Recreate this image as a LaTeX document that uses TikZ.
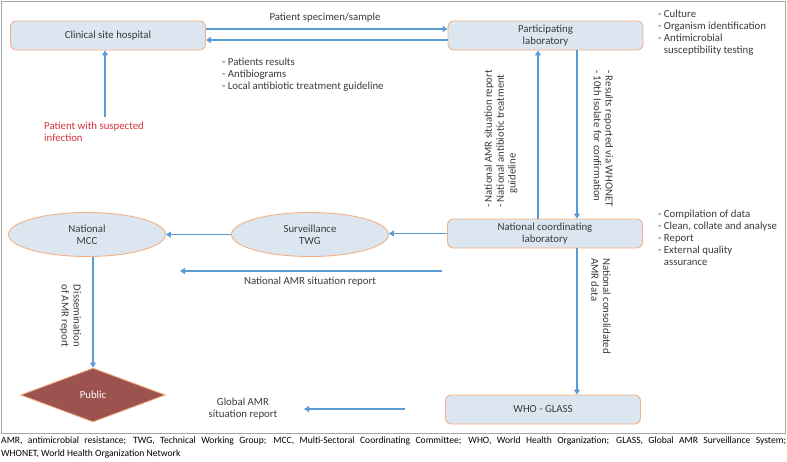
\documentclass[tikz,border=0pt]{standalone}
\usepackage{fontspec}
\setmainfont{Carlito}
\usetikzlibrary{arrows.meta,shapes.geometric}
\definecolor{boxfill}{HTML}{DCE6F1}
\definecolor{boxedge}{HTML}{F4B183}
\definecolor{arrowblue}{HTML}{5B9BD5}
\definecolor{txtgray}{HTML}{3A3A3A}
\definecolor{redtxt}{HTML}{D6323A}
\definecolor{pubfill}{HTML}{9C5350}
\definecolor{framegray}{HTML}{A6A6A6}
\begin{document}
\begin{tikzpicture}[x=1pt,y=-1pt,
  every node/.style={font=\fontsize{10.8}{11.9}\selectfont, text=txtgray},
  rbox/.style={draw=boxedge, fill=boxfill, line width=0.9pt, rounded corners=6pt,
     minimum width=195pt, minimum height=29pt, inner sep=0pt, align=center},
  ellbox/.style={ellipse, draw=boxedge, fill=boxfill, line width=0.9pt,
     minimum width=157pt, minimum height=44pt, inner sep=0pt, align=center},
  arr/.style={draw=arrowblue, line width=1.1pt, -{Triangle[width=6pt,length=5pt]}},
  lbl/.style={inner sep=0pt, align=left},
]
\useasboundingbox (0,0) rectangle (787,461);
\draw[framegray, line width=0.8pt] (1,1) rectangle (785,433);

% nodes
\node[rbox] (clin) at (108,35.5) {Clinical site hospital};
\node[rbox] (part) at (545.5,35.5) {Participating\\laboratory};
\node[rbox] (nat) at (545,233.5) {National coordinating\\laboratory};
\node[rbox] (glass) at (543,409.5) {WHO - GLASS};
\node[ellbox] (twg) at (310,234.5) {Surveillance\\TWG};
\node[ellbox] (mcc) at (87,234.5) {National\\MCC};
\node[diamond, draw=boxedge, fill=pubfill, line width=0.9pt, inner sep=0pt,
      aspect=2.7, minimum width=145pt, minimum height=54pt, text=white] (pub) at (93,395) {Public};

% labels
\node[lbl, anchor=base] (lspec) at (325,20) {Patient specimen/sample};
\node[lbl, anchor=north west] (lres) at (222,58) {- Patients results\\- Antibiograms\\- Local antibiotic treatment guideline};
\node[lbl, anchor=north west] (lcult) at (658,10) {- Culture\\- Organism identification\\- Antimicrobial\\\hphantom{- }susceptibility testing};
\node[lbl, anchor=north west, text=redtxt] (lpat) at (44,122) {Patient with suspected\\infection};
\node[lbl, anchor=north west] (lcomp) at (658,210) {- Compilation of data\\- Clean, collate and analyse\\- Report\\- External quality\\\hphantom{- }assurance};
\node[lbl, rotate=90, anchor=west] (lnatrep) at (501,208) {- National AMR situation report\\- National antibiotic treatment\\\hspace*{14pt}guideline};
\node[lbl, rotate=-90, anchor=west] (lwho) at (603.5,70) {- Results reported via WHONET\\- 10th Isolate for confirmation};
\node[lbl, rotate=-90, anchor=west] (lcons) at (601,258) {National consolidated\\AMR data};
\node[lbl, rotate=-90, anchor=center, align=center] (ldis) at (70.5,316) {Dissemination\\of AMR report};
\node[lbl, anchor=base, align=center] (lamr) at (310,284.5) {National AMR situation report};
\node[lbl, anchor=center, align=center] (lglob) at (243,408.5) {Global AMR\\situation report};

% connectors
\draw[arr] ([yshift=6.5pt]clin.east) -- ([yshift=6.5pt]part.west);
\draw[arr] ([yshift=-4.5pt]part.west) -- ([yshift=-4.5pt]clin.east);
\coordinate (pstart) at (105,117);
\draw[arr] (pstart) -- (pstart |- clin.south);
\draw[arr] ([xshift=-7pt]nat.north) -- ([xshift=-7.5pt]part.south);
\draw[arr] ([xshift=31.5pt]part.south) -- ([xshift=32pt]nat.north);
\draw[arr] (nat.west) -- (nat.west -| twg.east);
\draw[arr] (twg.west) -- (twg.west -| mcc.east);
\coordinate (amrA) at (442,271);
\coordinate (amrB) at (180,271);
\draw[arr] (amrA) -- (amrB);
\draw[arr] (pub.north |- mcc.south) -- (pub.north);
\draw[arr] ([xshift=32pt]nat.south) -- ([xshift=32pt]nat.south |- glass.north);
\coordinate (globA) at (405,409);
\coordinate (globB) at (304,409);
\draw[arr] (globA) -- (globB);

% caption
\node[anchor=north west, inner sep=0pt, text width=785pt, align=justify,
      font=\fontsize{9.6}{13}\selectfont, text=black] (cap) at (1,436.5)
 {AMR, antimicrobial resistance; TWG, Technical Working Group; MCC, Multi-Sectoral Coordinating Committee; WHO, World Health Organization; GLASS, Global AMR Surveillance System;\linebreak WHONET, World Health Organization Network};
\end{tikzpicture}
\end{document}
